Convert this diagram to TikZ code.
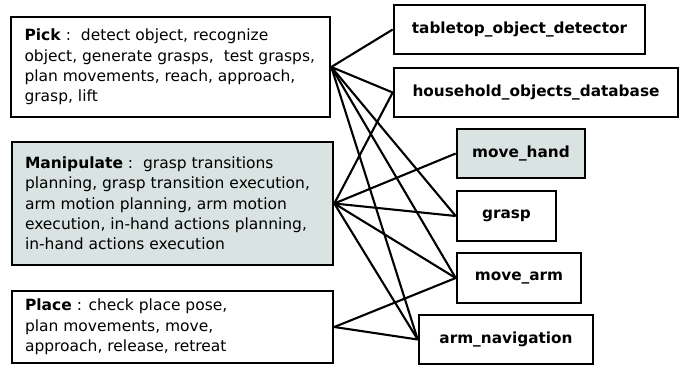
\documentclass[tikz,border=0pt]{standalone}
\usepackage{fontspec}
\setmainfont{DejaVu Sans}
\definecolor{paleblue}{RGB}{216,227,226}
\begin{document}
\begin{tikzpicture}[x=1pt,y=-1pt,
  taskbox/.style={draw, line width=2.6pt, rectangle, inner sep=0pt, font=\fontsize{15.5}{20.3}\selectfont},
  modbox/.style={draw, line width=2.6pt, rectangle, inner sep=0pt, font=\fontsize{15.3}{17}\selectfont\bfseries},
  link/.style={line width=2.1pt}]
\useasboundingbox (0,0) rectangle (683,368);

% task boxes (left column)
\node[taskbox, minimum width=319pt, minimum height=100pt] (pick) at (170.5,67)
  {\parbox{292pt}{\raggedright\textbf{Pick}\ :\ \ detect object, recognize\\
   object, generate grasps,\ \ test grasps,\\
   plan movements, reach, approach,\\
   grasp, lift}};
\node[taskbox, fill=paleblue, minimum width=321pt, minimum height=123pt] (manip) at (172.5,203.5)
  {\parbox{295pt}{\raggedright\textbf{Manipulate}\ :\ \ grasp transitions\\
   planning, grasp transition execution,\\
   arm motion planning, arm motion\\
   execution, in-hand actions planning,\\
   in-hand actions execution}};
\node[taskbox, minimum width=321pt, minimum height=72pt] (place) at (172.5,327)
  {\parbox{295pt}{\raggedright\textbf{Place}\ : check place pose,\\
   plan movements, move,\\
   approach, release, retreat}};

% module boxes (right column)
\node[modbox, minimum width=251pt, minimum height=49pt] (tod) at (519.5,29.5) {tabletop\_object\_detector};
\node[modbox, minimum width=284pt, minimum height=49pt] (hod) at (536,92.5) {household\_objects\_database};
\node[modbox, fill=paleblue, minimum width=128pt, minimum height=49pt] (mhand) at (521,153.5) {move\_hand};
\node[modbox, minimum width=99pt, minimum height=50pt] (grasp) at (506.5,216) {grasp};
\node[modbox, minimum width=124pt, minimum height=50pt] (marm) at (519,278) {move\_arm};
\node[modbox, minimum width=174pt, minimum height=49pt] (anav) at (506,339.5) {arm\_navigation};

% Pick dependencies
\foreach \m in {tod,hod,grasp,marm,anav}
  \draw[link] (pick.east) -- (\m.west);
% Manipulate dependencies
\foreach \m in {hod,mhand,grasp,marm,anav}
  \draw[link] (manip.east) -- (\m.west);
% Place dependencies
\foreach \m in {marm,anav}
  \draw[link] (place.east) -- (\m.west);
\end{tikzpicture}
\end{document}
